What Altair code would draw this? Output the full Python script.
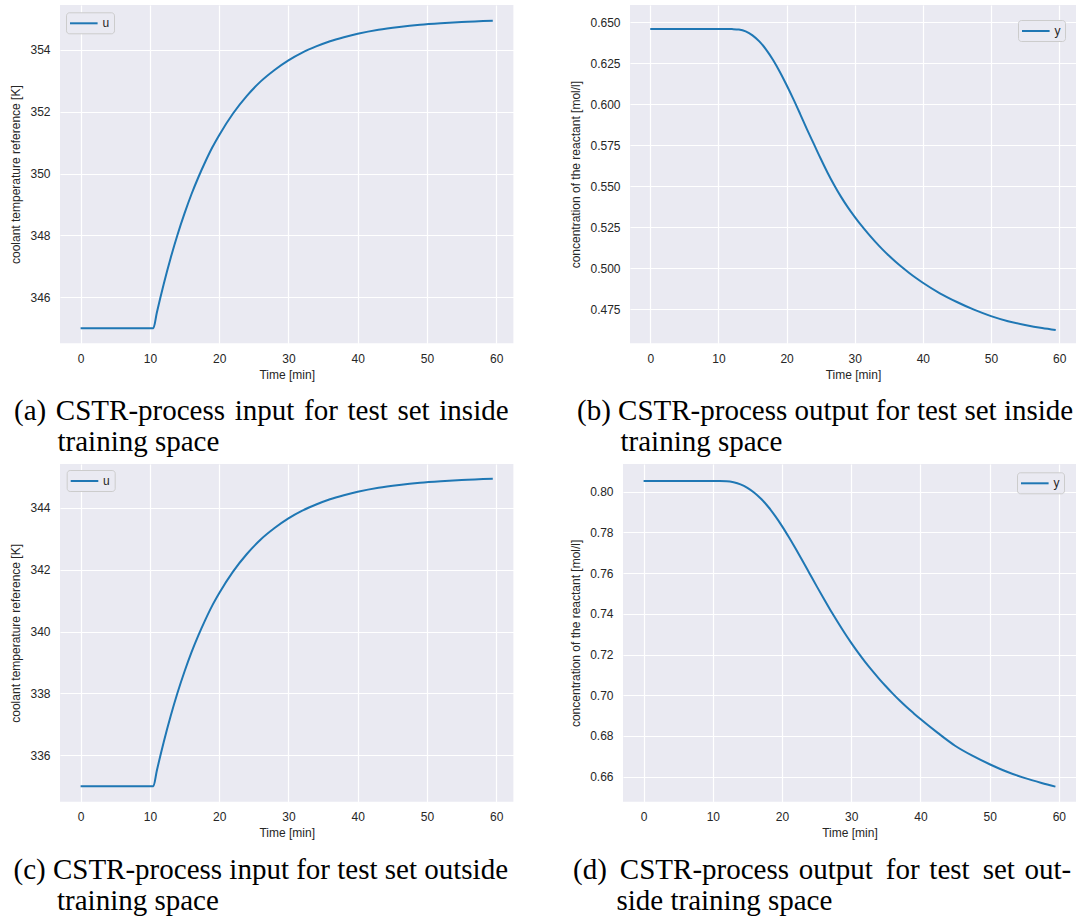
import altair as alt
import pandas as pd

# ---------------- data ----------------
t_u = [0, 10.5, 11, 12, 13, 14, 15, 16, 17, 18, 19, 20, 22, 24, 26, 28, 30,
       32, 34, 36, 38, 40, 43, 46, 49, 52, 55, 59.5]
u_inside = [345.0, 345.0, 345.50, 346.43, 347.27, 348.03, 348.71, 349.33,
            349.88, 350.38, 350.84, 351.24, 351.94, 352.51, 352.98, 353.35,
            353.66, 353.91, 354.11, 354.28, 354.41, 354.52, 354.65, 354.74,
            354.81, 354.86, 354.90, 354.94]
u_outside = [335.0, 335.0, 335.50, 336.43, 337.27, 338.03, 338.71, 339.33,
             339.88, 340.38, 340.84, 341.24, 341.94, 342.51, 342.98, 343.35,
             343.66, 343.91, 344.11, 344.28, 344.41, 344.52, 344.65, 344.74,
             344.81, 344.86, 344.90, 344.94]

t_y = [0, 11, 12, 13, 14, 15, 16, 17, 18, 19, 20, 21, 22, 23, 24, 25, 26, 27,
       28, 29, 30, 31, 32, 33, 34, 35, 36, 37, 38, 39, 40, 42.5, 45, 47.5, 50,
       52.5, 55, 57.5, 59.5]
y_inside = [0.6460, 0.6460, 0.6459, 0.6456, 0.6445, 0.6421, 0.6384, 0.6334,
            0.6272, 0.6199, 0.6118, 0.6032, 0.5941, 0.5848, 0.5759, 0.5670,
            0.5585, 0.5507, 0.5436, 0.5372, 0.5314, 0.5260, 0.5210, 0.5163,
            0.5119, 0.5078, 0.5040, 0.5005, 0.4972, 0.4941, 0.4912, 0.4848,
            0.4795, 0.4748, 0.4709, 0.4678, 0.4655, 0.4636, 0.4624]
y_outside = [0.8052, 0.8052, 0.8051, 0.8046, 0.8036, 0.8019, 0.7995, 0.7964,
             0.7926, 0.7881, 0.7831, 0.7776, 0.7718, 0.7658, 0.7597, 0.7536,
             0.7476, 0.7418, 0.7362, 0.7308, 0.7257, 0.7209, 0.7164, 0.7122,
             0.7082, 0.7044, 0.7008, 0.6974, 0.6942, 0.6912, 0.6883, 0.6815,
             0.6752, 0.6703, 0.6661, 0.6624, 0.6594, 0.6569, 0.6551]

x_ticks = [0, 10, 20, 30, 40, 50, 60]
u_in_ticks = [346, 348, 350, 352, 354]
u_out_ticks = [336, 338, 340, 342, 344]
y_in_ticks = [0.475, 0.5, 0.525, 0.55, 0.575, 0.6, 0.625, 0.65]
y_out_ticks = [0.66, 0.68, 0.70, 0.72, 0.74, 0.76, 0.78, 0.80]

IND = "\u200b" + "\u00a0" * 6
HS = " \u200a"   # word space widened a little (LaTeX justification)
TS = " \u2009"
cap_a = [HS.join("(a) CSTR-process input for test set inside".split(" ")),
         IND + "training space"]
cap_b = ["(b) CSTR-process output for test set inside", IND + "training space"]
cap_c = ["(c) CSTR-process input for test set outside", IND + "training space"]
cap_d = ["(d)" + TS + "CSTR-process" + HS + "output" + TS + "for" + HS + "test"
         + TS + "set" + HS + "out-", IND + "side training space"]

LINE = "#1f77b4"
TXT = "#262626"
SANS = "Liberation Sans"


def panel(t, v, name, ylabel, ydomain, yticks, yfmt, width, height,
          caption, cap_dx, lx, ly):
    df = pd.DataFrame({"t": t, "v": v, "s": [name] * len(t)})
    return alt.Chart(df).mark_line(strokeWidth=2, interpolate="monotone").encode(
        x=alt.X("t:Q",
                scale=alt.Scale(domain=[-2.975, 62.475], nice=False, zero=False),
                axis=alt.Axis(values=x_ticks, title="Time [min]", format="d")),
        y=alt.Y("v:Q",
                scale=alt.Scale(domain=ydomain, nice=False, zero=False),
                axis=alt.Axis(values=yticks, title=ylabel, format=yfmt)),
        color=alt.Color("s:N", scale=alt.Scale(range=[LINE]),
                        legend=alt.Legend(title=None, orient="none",
                                          legendX=lx, legendY=ly)),
    ).properties(width=width, height=height,
                 title=alt.TitleParams(text=caption, dx=cap_dx))


a = panel(t_u, u_inside, "u", "coolant temperature reference [K]",
          [344.51, 355.45], u_in_ticks, "d", 453.4, 338.3, cap_a, -46, 6, 7.3)
b = panel(t_y, y_inside, "y", "concentration of the reactant [mol/l]",
          [0.4543, 0.6606], y_in_ticks, ".3f", 446, 338.3, cap_b, -53, 388, 15)
c = panel(t_u, u_outside, "u", "coolant temperature reference [K]",
          [334.5, 345.42], u_out_ticks, "d", 453.4, 337.7, cap_c, -46.5, 6.7, 6)
d = panel(t_y, y_outside, "y", "concentration of the reactant [mol/l]",
          [0.6477, 0.8136], y_out_ticks, ".2f", 453, 337.7, cap_d, -50, 394, 8.3)

top = alt.hconcat(a, b, spacing=55).resolve_scale(color="independent").resolve_legend(color="independent")
bottom = alt.hconcat(c, d, spacing=55).resolve_scale(color="independent").resolve_legend(color="independent")

chart = alt.vconcat(top, bottom, spacing=6).resolve_scale(
    color="independent").resolve_legend(color="independent").properties(
    padding={"left": 9, "top": 5, "right": 0, "bottom": 0},
    background="white",
).configure_view(
    fill="#EAEAF2", strokeWidth=0
).configure_axis(
    domain=False, ticks=False, tickSize=0, grid=True, gridColor="white",
    gridWidth=1.2, labelFont=SANS, labelFontSize=12, labelColor=TXT,
    titleFont=SANS, titleFontSize=12, titleFontWeight="normal",
    titleColor=TXT, labelPadding=10, labelFlush=False,
).configure_axisX(titlePadding=5).configure_axisY(titlePadding=7).configure_legend(
    symbolType="M-2.3,0H2.3", symbolSize=144, symbolStrokeWidth=2,
    symbolOffset=6.8, symbolStrokeColor=LINE, labelFont=SANS,
    labelFontSize=12, labelColor=TXT, labelOffset=11.6, padding=4,
    cornerRadius=3, strokeColor="#cccccc", fillColor="#EAEAF2",
).configure_title(
    orient="bottom", anchor="start", frame="group", font="Liberation Serif",
    fontSize=29, fontWeight="normal", color="black", offset=17, lineHeight=31,
)

chart.save("out.html", embed_options={"renderer": "svg", "actions": False})
